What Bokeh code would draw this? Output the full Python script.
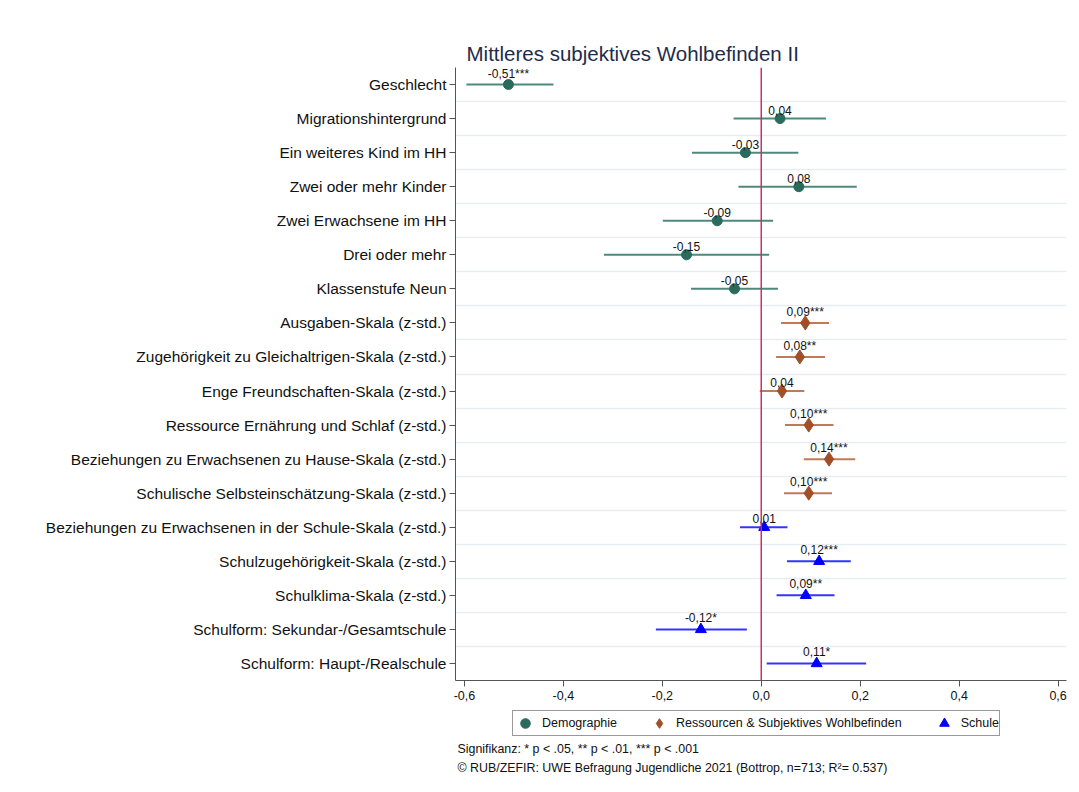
from bokeh.plotting import figure
from bokeh.layouts import column
from bokeh.models import Range1d, FixedTicker, Span, Legend, LegendItem, Label, ColumnDataSource
from bokeh.embed import file_html
from bokeh.resources import INLINE
from bokeh.core.properties import value

labels = [
    "Geschlecht",
    "Migrationshintergrund",
    "Ein weiteres Kind im HH",
    "Zwei oder mehr Kinder",
    "Zwei Erwachsene im HH",
    "Drei oder mehr",
    "Klassenstufe Neun",
    "Ausgaben-Skala (z-std.)",
    "Zugehörigkeit zu Gleichaltrigen-Skala (z-std.)",
    "Enge Freundschaften-Skala (z-std.)",
    "Ressource Ernährung und Schlaf (z-std.)",
    "Beziehungen zu Erwachsenen zu Hause-Skala (z-std.)",
    "Schulische Selbsteinschätzung-Skala (z-std.)",
    "Beziehungen zu Erwachsenen in der Schule-Skala (z-std.)",
    "Schulzugehörigkeit-Skala (z-std.)",
    "Schulklima-Skala (z-std.)",
    "Schulform: Sekundar-/Gesamtschule",
    "Schulform: Haupt-/Realschule",
]
coef = [-0.511, 0.038, -0.032, 0.076, -0.089, -0.151, -0.054,
        0.089, 0.078, 0.042, 0.096, 0.137, 0.096,
        0.006, 0.117, 0.090, -0.122, 0.112]
ci_lo = [-0.596, -0.056, -0.140, -0.046, -0.199, -0.318, -0.142,
         0.040, 0.030, -0.003, 0.048, 0.086, 0.046,
         -0.043, 0.052, 0.031, -0.213, 0.011]
ci_hi = [-0.420, 0.131, 0.075, 0.193, 0.024, 0.016, 0.034,
         0.137, 0.129, 0.087, 0.146, 0.190, 0.143,
         0.053, 0.181, 0.148, -0.029, 0.212]
sig = ["***", "", "", "", "", "", "",
       "***", "**", "", "***", "***", "***",
       "", "***", "**", "*", "*"]
group = ["Demographie"] * 7 + ["Ressourcen & Subjektives Wohlbefinden"] * 6 + ["Schule"] * 5
group_names = ["Demographie", "Ressourcen & Subjektives Wohlbefinden", "Schule"]
x_ticks = [-0.6, -0.4, -0.2, 0.0, 0.2, 0.4, 0.6]
x_tick_labels = ["-0,6", "-0,4", "-0,2", "0,0", "0,2", "0,4", "0,6"]
notes = ["Signifikanz: * p < .05, ** p < .01, *** p < .001",
         "© RUB/ZEFIR: UWE Befragung Jugendliche 2021 (Bottrop, n=713; R²= 0.537)"]

marker_color = {"Demographie": "#2b6b5d", "Ressourcen & Subjektives Wohlbefinden": "#a14f28", "Schule": "#0000ff"}
line_color = {"Demographie": "#4e8a7b", "Ressourcen & Subjektives Wohlbefinden": "#c07a57", "Schule": "#3434ff"}
marker_type = {"Demographie": "circle", "Ressourcen & Subjektives Wohlbefinden": "diamond", "Schule": "triangle"}
marker_size = {"Demographie": 10, "Ressourcen & Subjektives Wohlbefinden": 14, "Schule": 11}

FONT = "Liberation Sans"
W = 1072

p = figure(width=W, height=708, output_backend="svg", toolbar_location=None,
           x_range=Range1d(-0.618, 0.617), y_range=Range1d(17.5, -0.5),
           min_border_left=455, min_border_right=6, min_border_top=67, min_border_bottom=28)
p.outline_line_color = None
p.background_fill_color = "white"
p.border_fill_color = "white"

p.title.text = "Mittleres subjektives Wohlbefinden II"
p.title.text_font = FONT
p.title.text_font_size = "20.5px"
p.title.text_font_style = "normal"
p.title.text_color = "#1e2c4c"
p.title.offset = 11
p.title.standoff = 5

ypos = list(range(len(labels)))

for g in group_names:
    idx = [i for i in ypos if group[i] == g]
    src = ColumnDataSource(dict(
        y=[ypos[i] for i in idx],
        c=[coef[i] for i in idx],
        lo=[ci_lo[i] for i in idx],
        hi=[ci_hi[i] for i in idx],
        t=[f"{coef[i]:.2f}".replace(".", ",") + sig[i] for i in idx],
    ))
    p.segment(x0="lo", x1="hi", y0="y", y1="y", source=src, line_color=line_color[g], line_width=2)
    p.scatter(x="c", y="y", source=src, marker=marker_type[g], size=marker_size[g],
              fill_color=marker_color[g], line_color=marker_color[g])
    p.text(x="c", y="y", text="t", source=src, text_font=value(FONT), text_font_size="12px",
           text_align="center", text_baseline="bottom", y_offset=-4, text_color="#111111")

p.add_layout(Span(location=0, dimension="height", line_color="#dc2a5e", line_width=1.5))

# axes
p.yaxis.ticker = FixedTicker(ticks=ypos)
p.yaxis.major_label_overrides = {i: labels[i] for i in ypos}
p.yaxis.major_label_text_font = FONT
p.yaxis.major_label_text_font_size = "15.5px"
p.yaxis.major_label_text_color = "#111111"
p.yaxis.axis_line_color = "#555555"
p.yaxis.major_tick_line_color = "#555555"
p.yaxis.major_tick_out = 6
p.yaxis.major_tick_in = 0
p.yaxis.minor_tick_line_color = None
p.yaxis.major_label_standoff = 3

p.xaxis.ticker = FixedTicker(ticks=x_ticks)
p.xaxis.major_label_overrides = {x_ticks[i]: x_tick_labels[i] for i in range(len(x_ticks))}
p.xaxis.major_label_text_font = FONT
p.xaxis.major_label_text_font_size = "12.5px"
p.xaxis.major_label_text_color = "#111111"
p.xaxis.axis_line_color = "#555555"
p.xaxis.major_tick_line_color = "#555555"
p.xaxis.major_tick_out = 6
p.xaxis.major_tick_in = 0
p.xaxis.minor_tick_line_color = None
p.xaxis.major_label_standoff = 4

p.xgrid.grid_line_color = None
p.ygrid.ticker = FixedTicker(ticks=[i + 0.5 for i in ypos[:-1]])
p.ygrid.grid_line_color = "#e6edf2"
p.ygrid.grid_line_width = 1.5

# footer with legend and notes (frame aligned with the main plot frame; units = pixels)
FH = 78
f = figure(width=W, height=FH, output_backend="svg", toolbar_location=None,
           x_range=Range1d(0, W - 455 - 6), y_range=Range1d(FH, 0),
           x_axis_type=None, y_axis_type=None,
           min_border_left=455, min_border_right=6, min_border_top=0, min_border_bottom=0)
f.outline_line_color = None
f.background_fill_color = "white"
f.border_fill_color = "white"
f.grid.visible = False

nan = float("nan")
items = []
for g in group_names:
    # legend-only renderer (a single NaN point draws nothing in the footer)
    r = f.scatter(x=[nan], y=[nan], marker=marker_type[g], size=marker_size[g],
                  fill_color=marker_color[g], line_color=marker_color[g])
    items.append(LegendItem(label=g, renderers=[r]))

legend = Legend(items=items, orientation="horizontal", location=(57, 50),
                label_text_font=FONT, label_text_font_size="12.5px", label_text_color="#111111",
                border_line_color="#333333", border_line_width=1, background_fill_color="white",
                glyph_width=24, glyph_height=24, label_standoff=5, spacing=30,
                padding=0, margin=0, label_height=24)
f.add_layout(legend, "center")

for k, txt in enumerate(notes):
    f.add_layout(Label(x=2, y=40 + 19 * k, text=txt, text_font=FONT, text_font_size="12.4px",
                       text_color="#111111", text_baseline="middle"))

layout = column(p, f, spacing=0)

open("out.html", "w").write(file_html(layout, INLINE))
